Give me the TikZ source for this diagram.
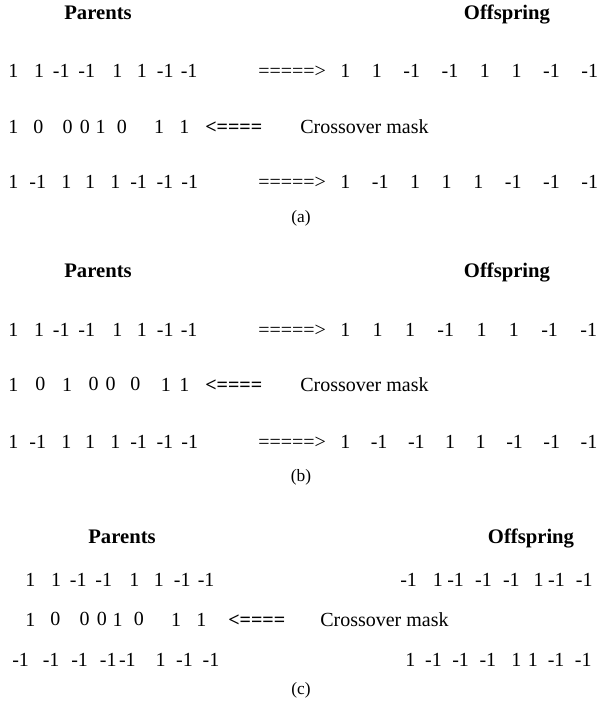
\documentclass[tikz,border=0pt]{standalone}
\usepackage{fontspec}
\setmainfont{Liberation Serif}
\usetikzlibrary{positioning}
\tikzset{
  bit/.style = {inner sep=0pt, font=\fontsize{15}{18}\selectfont},
  tag/.style = {bit, anchor=base west},
  maskarrow/.style = {tag, font=\fontsize{15}{18}\selectfont\bfseries},
  head/.style = {inner sep=0pt, anchor=base,
    font=\fontsize{15.5}{18}\selectfont\bfseries},
  sublabel/.style = {inner sep=0pt, anchor=base, font=\fontsize{13}{15}\selectfont}
}
% one row of genes: name, start (base west), list of value/gap in pt
\newcommand{\generow}[3]{%
  \foreach \val/\gap [count=\i, remember=\i as \j (initially 0)] in {#3}{%
    \ifnum\i=1
      \node[bit, anchor=base west] (#1-\i) at (#2) {\val};
    \else
      \node[bit, right=\gap pt of #1-\j] (#1-\i) {\val};
    \fi
  }%
}

\begin{document}
\begin{tikzpicture}[x=0.75pt, y=-0.75pt]
\useasboundingbox (0,0) rectangle (602,705);
% (a)
\node[head] (pa) at (98,20) {Parents};
\node[head] (oa) at (507,20) {Offspring};
\generow{pa1}{8,78}{1/0, 1/11.5, -1/6.2, -1/6.2, 1/12.5, 1/10.5, -1/7.2, -1/5}
\node[tag] (fa1) at (258,78) {=====>};
\generow{oa1}{340,78}{1/0, 1/15.8, -1/15.8, -1/15.8, 1/15.8, 1/15.8, -1/15.8, -1/15.8}
\generow{ma}{8,134}{1/0, 0/11, 0/14, 0/5, 1/4, 0/8, 1/20, 1/11}
\node[maskarrow] (ba) at (205,134) {<====};
\node[tag] (xa) at (300,134) {Crossover mask};
\generow{pa2}{8,189}{1/0, -1/8, 1/11, 1/10, 1/11, -1/7, -1/6.8, -1/5.8}
\node[tag] (fa2) at (258,189) {=====>};
\generow{oa2}{340,189}{1/0, -1/15.8, 1/15.8, 1/15.8, 1/15.8, -1/15.8, -1/15.8, -1/15.8}
\node[sublabel] (la) at (301,223) {(a)};
% (b)
\node[head] (pb) at (98,278) {Parents};
\node[head] (ob) at (507,278) {Offspring};
\generow{pb1}{8,336}{1/0, 1/11.5, -1/6.2, -1/6.2, 1/12.5, 1/10.5, -1/7.2, -1/5}
\node[tag] (fb1) at (258,336) {=====>};
\generow{ob1}{340,336}{1/0, 1/16.4, 1/16.4, -1/16.4, 1/16.4, 1/16.4, -1/16.4, -1/16.4}
\generow{mb}{8,391}{1/0, 0/12.5, 1/12, 0/12, 0/5, 0/10.5, 1/15, 1/6}
\node[maskarrow] (bb) at (205,391) {<====};
\node[tag] (xb) at (300,391) {Crossover mask};
\generow{pb2}{8,448}{1/0, -1/8, 1/11, 1/10, 1/11, -1/7, -1/6.8, -1/5.8}
\node[tag] (fb2) at (258,448) {=====>};
\generow{ob2}{340,448}{1/0, -1/15, -1/15, 1/15, 1/15, -1/15, -1/15, -1/15}
\node[sublabel] (lb) at (301,481) {(b)};
% (c)
\node[head] (pc) at (122,543) {Parents};
\node[head] (oc) at (531,543) {Offspring};
\generow{pc1}{25,586}{1/0, 1/11.5, -1/6.2, -1/6.2, 1/12.5, 1/10.5, -1/7.2, -1/5}
\generow{oc1}{400,586}{-1/0, 1/11.5, -1/3, -1/8, -1/8, 1/10, -1/3, -1/8}
\generow{mc}{25,626}{1/0, 0/11, 0/14, 0/5, 1/4, 0/8, 1/20, 1/11}
\node[maskarrow] (bc) at (228,626) {<====};
\node[tag] (xc) at (320,626) {Crossover mask};
\generow{pc2}{12,666}{-1/0, -1/10, -1/8.5, -1/8.5, -1/1.5, 1/14.5, -1/7.5, -1/7}
\generow{oc2}{405,666}{1/0, -1/7, -1/7.5, -1/7.5, 1/11, 1/4.5, -1/7, -1/7.5}
\node[sublabel] (lc) at (301,694) {(c)};
\end{tikzpicture}
\end{document}
